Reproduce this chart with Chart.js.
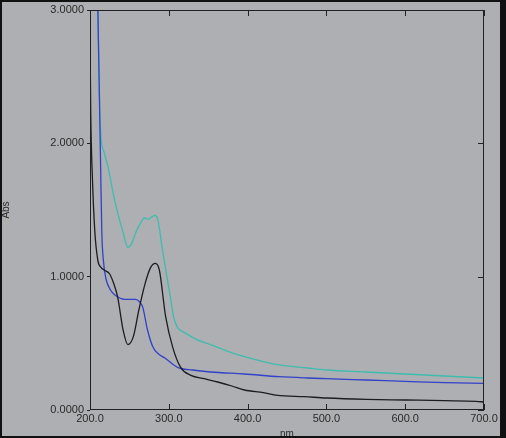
<!DOCTYPE html>
<html>
<head>
<meta charset="utf-8">
<script src="https://cdn.jsdelivr.net/npm/chart.js@4/dist/chart.umd.min.js"></script>
<style>
html,body{margin:0;padding:0;background:#adafb2;}
canvas{display:block;}
</style>
</head>
<body>
<canvas id="c" width="506" height="438"></canvas>
<script>
// Wavelength (nm) and absorbance
const blackNm  = [200, 201, 203, 206, 210, 214, 218, 225, 230, 235, 242, 248, 255, 262, 270, 277, 283, 288, 296, 305, 315, 328, 345, 362, 380, 396, 420, 438, 472, 500, 550, 600, 650, 690, 700];
const blackAbs = [2.8, 2.2, 1.75, 1.35, 1.12, 1.07, 1.05, 1.02, 0.95, 0.85, 0.6, 0.49, 0.55, 0.75, 0.95, 1.07, 1.1, 1.05, 0.7, 0.47, 0.32, 0.26, 0.235, 0.21, 0.18, 0.15, 0.13, 0.11, 0.10, 0.09, 0.08, 0.075, 0.07, 0.065, 0.06];

const blueNm  = [210, 212, 213.5, 215, 217, 220, 226, 232, 244, 258, 263, 267, 273, 280, 287, 295, 311, 330, 353, 396, 440, 476, 500, 550, 600, 650, 700];
const blueAbs = [3.0, 2.33, 1.82, 1.33, 1.12, 0.99, 0.9, 0.86, 0.83, 0.83, 0.81, 0.77, 0.60, 0.47, 0.42, 0.39, 0.32, 0.30, 0.285, 0.27, 0.25, 0.24, 0.235, 0.225, 0.215, 0.205, 0.20];

const tealNm  = [210, 212, 214, 218, 223, 231, 242, 248, 253, 258, 264, 269, 274, 279, 282, 286, 292, 299, 302, 306, 311, 320, 335, 353, 375, 396, 438, 476, 500, 550, 600, 650, 700];
const tealAbs = [3.0, 2.33, 2.05, 1.93, 1.82, 1.58, 1.33, 1.22, 1.25, 1.33, 1.40, 1.44, 1.43, 1.45, 1.46, 1.43, 1.2, 0.95, 0.85, 0.7, 0.62, 0.58, 0.53, 0.49, 0.44, 0.40, 0.34, 0.315, 0.30, 0.285, 0.27, 0.255, 0.24];

const xMin = 200, xMax = 700, xStep = 100;
const yMin = 0, yMax = 3, yStep = 1;

const pts = (xs, ys) => xs.map((x, i) => ({x: x, y: ys[i]}));

const frame = {
  id: 'frame',
  beforeDraw(chart) {
    const ctx = chart.ctx;
    ctx.save();
    ctx.fillStyle = '#adafb2';
    ctx.fillRect(0, 0, chart.width, chart.height);
    ctx.restore();
  },
  afterDraw(chart) {
    const ctx = chart.ctx, a = chart.chartArea;
    const xs = chart.scales.x, ys = chart.scales.y;
    ctx.save();
    ctx.strokeStyle = '#222';
    ctx.lineWidth = 1;
    ctx.strokeRect(a.left + 0.5, a.top + 0.5, a.right - a.left - 1, a.bottom - a.top - 1);
    ctx.beginPath();
    xs.ticks.forEach(t => {
      const px = Math.round(xs.getPixelForValue(t.value)) + 0.5;
      ctx.moveTo(px, a.top); ctx.lineTo(px, a.top + 6);
      ctx.moveTo(px, a.bottom); ctx.lineTo(px, a.bottom - 6);
    });
    ys.ticks.forEach(t => {
      const py = Math.round(ys.getPixelForValue(t.value)) + 0.5;
      ctx.moveTo(a.right, py); ctx.lineTo(a.right - 6, py);
    });
    ctx.stroke();
    // photo frame
    ctx.fillStyle = '#111';
    ctx.fillRect(0, 0, chart.width, 2);
    ctx.fillRect(0, 0, 2, chart.height);
    ctx.fillRect(0, chart.height - 2, chart.width, 2);
    ctx.fillRect(chart.width - 6, 0, 6, chart.height);
    ctx.restore();
  }
};

const lineDs = (label, data, color) => ({
  label, data, borderColor: color, borderWidth: 1.3, pointRadius: 0,
  fill: false, cubicInterpolationMode: 'monotone'
});

new Chart(document.getElementById('c'), {
  type: 'line',
  data: {
    datasets: [
      lineDs('black', pts(blackNm, blackAbs), '#1c1c22'),
      lineDs('blue', pts(blueNm, blueAbs), '#3341c9'),
      lineDs('teal', pts(tealNm, tealAbs), '#3fbcae')
    ]
  },
  options: {
    responsive: false,
    animation: false,
    layout: {padding: {left: 0, top: 10, right: 22, bottom: 0}},
    plugins: {legend: {display: false}, tooltip: {enabled: false}},
    scales: {
      x: {
        type: 'linear', min: xMin, max: xMax,
        afterFit: s => { s.height = 28; },
        ticks: {stepSize: xStep, callback: v => Number(v).toFixed(1), color: '#2a2a2a', padding: 2, maxRotation: 0,
          font: {family: 'Liberation Sans, Arial, sans-serif', size: 11}},
        grid: {drawOnChartArea: false, drawTicks: false},
        border: {display: false},
        title: {display: true, text: 'nm', color: '#2a2a2a', padding: {top: 0, bottom: -2},
          font: {family: 'Liberation Sans, Arial, sans-serif', size: 10}}
      },
      y: {
        min: yMin, max: yMax,
        afterFit: s => { s.width = 90; },
        ticks: {stepSize: yStep, callback: v => Number(v).toFixed(4), color: '#2a2a2a', padding: 3,
          font: {family: 'Liberation Sans, Arial, sans-serif', size: 11}},
        grid: {drawOnChartArea: false, drawTicks: true, tickLength: 3, color: '#222'},
        border: {display: false},
        title: {display: true, text: 'Abs', color: '#2a2a2a', padding: {top: 0, bottom: 0},
          font: {family: 'Liberation Sans, Arial, sans-serif', size: 10}}
      }
    }
  },
  plugins: [frame]
});
</script>
</body>
</html>
